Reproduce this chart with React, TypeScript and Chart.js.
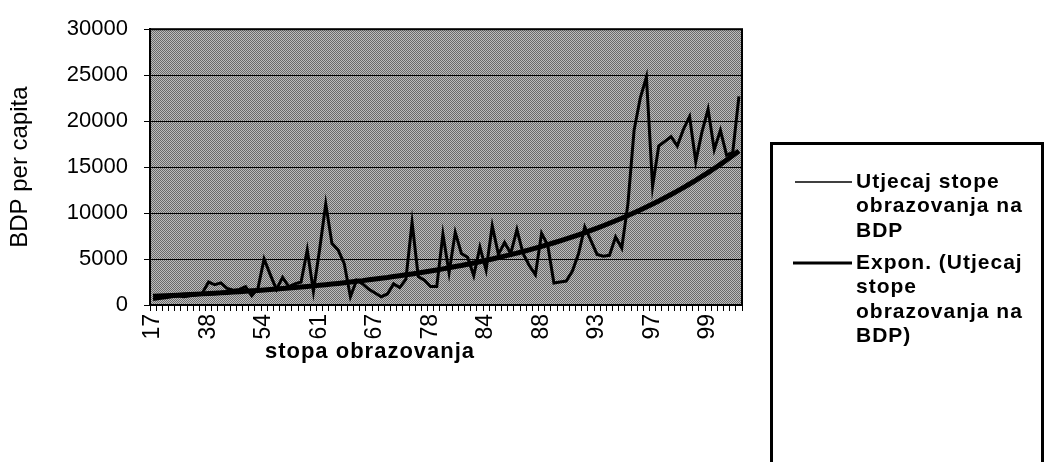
import React, { useEffect, useRef } from 'react';
import { Chart, registerables } from 'chart.js';

Chart.register(...registerables);

// x categories: "stopa obrazovanja" (sorted), only every 9th is labelled on the axis
const categories = [
  17, 19, 22, 24, 27, 29, 31, 34, 36,
  38, 40, 42, 44, 46, 48, 50, 51, 53,
  54, 55, 56, 57, 58, 58, 59, 60, 60,
  61, 62, 62, 63, 64, 64, 65, 66, 66,
  67, 68, 70, 71, 72, 74, 75, 76, 77,
  78, 79, 79, 80, 81, 82, 82, 83, 83,
  84, 84, 85, 85, 86, 86, 87, 87, 88,
  88, 89, 89, 90, 90, 91, 91, 92, 92,
  93, 93, 94, 94, 95, 95, 96, 96, 96,
  97, 97, 97, 98, 98, 98, 98, 99, 99,
  99, 99, 99, 99, 99, 100,
];

// BDP per capita
const seriesValues = [
  600, 700, 800, 900, 1000, 900, 1000, 1100, 1300, 2500,
  2200, 2400, 1800, 1600, 1700, 2000, 1000, 1800, 5000, 3300,
  1700, 3000, 2000, 2300, 2500, 6000, 1500, 6000, 11000, 6700,
  6000, 4500, 900, 2700, 2300, 1700, 1300, 900, 1200, 2300,
  1900, 2800, 9000, 3100, 2700, 2000, 2000, 7700, 3500, 7900,
  5600, 5200, 3200, 6300, 3800, 8600, 5500, 6800, 5600, 8200,
  5600, 4300, 3300, 7800, 6500, 2400, 2500, 2600, 3700, 5600,
  8500, 7000, 5500, 5300, 5400, 7400, 6200, 11000, 19000, 22500,
  24800, 12900, 17300, 17800, 18300, 17300, 19100, 20500, 15600, 18800,
  21300, 16900, 19000, 16300, 16600, 22700,
];

// Expon. trend line
const trendValues = [
  950, 980, 1010, 1040, 1070, 1110, 1140, 1170, 1210, 1250,
  1290, 1320, 1370, 1410, 1450, 1500, 1540, 1590, 1640, 1690,
  1740, 1790, 1850, 1900, 1960, 2020, 2080, 2150, 2210, 2280,
  2350, 2420, 2500, 2580, 2650, 2740, 2820, 2910, 2990, 3090,
  3180, 3280, 3380, 3480, 3590, 3700, 3810, 3930, 4050, 4180,
  4300, 4440, 4570, 4710, 4860, 5010, 5160, 5320, 5480, 5650,
  5820, 6000, 6180, 6370, 6570, 6770, 6980, 7190, 7410, 7640,
  7870, 8120, 8360, 8620, 8890, 9160, 9440, 9730, 10030, 10330,
  10650, 10980, 11310, 11660, 12020, 12390, 12770, 13160, 13560, 13980,
  14410, 14850, 15300, 15770, 16260, 16750,
];

const seriesLabel = 'Utjecaj stope obrazovanja na BDP';
const trendLabel = 'Expon. (Utjecaj stope obrazovanja na BDP)';
const xTitle = 'stopa obrazovanja';
const yTitle = 'BDP per capita';
const yMin = 0;
const yMax = 30000;
const yStep = 5000;
const labelEvery = 9;

const FONT = "'Liberation Sans', Arial, Helvetica, sans-serif";

function wrapText(ctx: CanvasRenderingContext2D, text: string, maxW: number): string[] {
  const words = text.split(' ');
  const lines: string[] = [];
  let cur = '';
  for (const w of words) {
    const test = cur ? cur + ' ' + w : w;
    if (cur && ctx.measureText(test).width > maxW) {
      lines.push(cur);
      cur = w;
    } else {
      cur = test;
    }
  }
  if (cur) lines.push(cur);
  return lines;
}

export default function App() {
  const ref = useRef<HTMLCanvasElement>(null);

  useEffect(() => {
    document.body.style.margin = '0';
    const canvas = ref.current!;
    const pc = document.createElement('canvas');
    pc.width = 2;
    pc.height = 2;
    const pctx = pc.getContext('2d')!;
    pctx.fillStyle = '#bdbdbd';
    pctx.fillRect(0, 0, 2, 2);
    pctx.fillStyle = '#6a6a6a';
    pctx.fillRect(0, 0, 1, 1);
    pctx.fillRect(1, 1, 1, 1);
    const pattern = canvas.getContext('2d')!.createPattern(pc, 'repeat');

    const decorPlugin = {
      id: 'decor',
      beforeDraw(chart: any) {
        const { ctx, chartArea } = chart;
        ctx.save();
        ctx.fillStyle = '#ffffff';
        ctx.fillRect(0, 0, chart.width, chart.height);
        ctx.fillStyle = pattern || '#949494';
        ctx.fillRect(chartArea.left, chartArea.top, chartArea.right - chartArea.left, chartArea.bottom - chartArea.top);
        ctx.restore();
      },
      afterDraw(chart: any) {
        const { ctx, chartArea } = chart;
        ctx.save();
        // plot border
        ctx.strokeStyle = '#000';
        ctx.lineWidth = 2;
        ctx.strokeRect(chartArea.left, chartArea.top, chartArea.right - chartArea.left, chartArea.bottom - chartArea.top);

        // x axis title
        ctx.fillStyle = '#000';
        ctx.font = `bold 22px ${FONT}`;
        (ctx as any).letterSpacing = '1px';
        ctx.textAlign = 'center';
        ctx.textBaseline = 'middle';
        ctx.fillText(xTitle, 370, 352);

        // legend box
        ctx.lineWidth = 3;
        ctx.strokeRect(771.5, 143.5, 271, 340);
        ctx.font = `bold 21px ${FONT}`;
        (ctx as any).letterSpacing = '1px';
        ctx.textAlign = 'left';
        const entries = [
          { text: chart.data.datasets[0].label, y: 182, lw: 1.5, x0: 795 },
          { text: chart.data.datasets[1].label, y: 263, lw: 3, x0: 793 },
        ];
        for (const e of entries) {
          ctx.lineWidth = e.lw;
          ctx.beginPath();
          ctx.moveTo(e.x0, e.y);
          ctx.lineTo(852, e.y);
          ctx.stroke();
          const lines = wrapText(ctx, e.text, 182);
          lines.forEach((ln, i) => ctx.fillText(ln, 856, e.y + i * 24.5));
        }
        ctx.restore();
      },
    };

    const chart = new Chart(canvas, {
      type: 'line',
      data: {
        labels: categories.map(String),
        datasets: [
          {
            label: seriesLabel,
            data: seriesValues,
            borderColor: '#000',
            borderWidth: 3,
            pointRadius: 0,
            tension: 0,
            fill: false,
          },
          {
            label: trendLabel,
            data: trendValues,
            borderColor: '#000',
            borderWidth: 5,
            pointRadius: 0,
            tension: 0,
            fill: false,
          },
        ],
      },
      options: {
        responsive: false,
        animation: false,
        devicePixelRatio: 1,
        layout: { padding: { left: 0, top: 23, right: 303, bottom: 0 } },
        plugins: {
          legend: { display: false },
          tooltip: { enabled: false },
          title: { display: false },
        },
        scales: {
          x: {
            type: 'category',
            offset: true,
            grid: {
              display: true,
              offset: true,
              drawOnChartArea: false,
              drawTicks: true,
              tickLength: 6,
              color: '#000',
              tickColor: '#000',
              lineWidth: 1,
            },
            border: { display: true, color: '#000', width: 2 },
            ticks: {
              autoSkip: false,
              minRotation: 90,
              maxRotation: 90,
              padding: 3,
              color: '#000',
              font: { family: FONT, size: 23 },
              callback: function (this: any, value: any, index: number) {
                return index % labelEvery === 0 ? this.getLabelForValue(value) : '';
              },
            },
            afterFit: (scale: any) => {
              scale.height = 157;
            },
          },
          y: {
            min: yMin,
            max: yMax,
            grid: {
              display: true,
              drawTicks: true,
              tickLength: 6,
              color: '#000',
              tickColor: '#000',
              lineWidth: 1,
            },
            border: { display: true, color: '#000', width: 2 },
            ticks: {
              stepSize: yStep,
              padding: 16,
              color: '#000',
              font: { family: FONT, size: 22 },
              callback: (value: any) => String(value),
            },
            title: {
              display: true,
              text: yTitle,
              color: '#000',
              font: { family: FONT, size: 24 },
              padding: { top: 6, bottom: 0 },
            },
            afterFit: (scale: any) => {
              scale.width = 150;
            },
          },
        },
      },
      plugins: [decorPlugin],
    });

    return () => chart.destroy();
  }, []);

  return (
    <div style={{ width: 1045, height: 462, background: '#fff' }}>
      <canvas ref={ref} width={1045} height={462} style={{ display: 'block' }} />
    </div>
  );
}
